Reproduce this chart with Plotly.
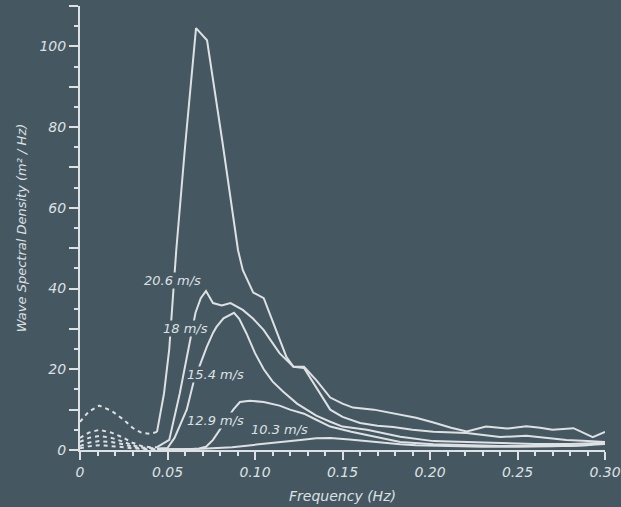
import plotly.graph_objects as go

BG = "#455761"
FG = "#dde1e3"
FONT = "DejaVu Sans"

# Low-frequency (dashed) part, shared frequencies
low_freq = [0.0, 0.005, 0.011, 0.018, 0.025, 0.030, 0.035, 0.040, 0.044]
low_206 = [7.0, 9.5, 11.0, 9.7, 7.5, 5.5, 4.3, 4.0, 4.5]
low_18 = [3.0, 4.3, 5.0, 4.3, 3.0, 1.8, 1.0, 0.7, 0.7]
low_154 = [2.0, 3.0, 3.5, 3.0, 2.0, 1.2, 0.6, 0.4, 0.4]
low_129 = [1.0, 1.8, 2.2, 2.0, 1.4, 0.8, 0.4, 0.3, 0.2]
low_103 = [0.4, 0.9, 1.2, 1.0, 0.7, 0.4, 0.2, 0.1, 0.1]

# 20.6 m/s
f_206 = [0.044, 0.048, 0.051, 0.055, 0.060, 0.0663, 0.0726, 0.0815, 0.0903, 0.093,
         0.099, 0.105, 0.110, 0.118, 0.122, 0.128, 0.135, 0.143, 0.150, 0.156,
         0.168, 0.183, 0.192, 0.202, 0.212, 0.221, 0.232, 0.244, 0.255, 0.263,
         0.270, 0.282, 0.293, 0.300]
s_206 = [4.5, 14, 25, 49.5, 75, 104.5, 101.5, 76, 49.5, 44.6,
         39, 37.6, 32, 23, 20.6, 20.6, 17.3, 13, 11.5, 10.5,
         10, 8.7, 8.0, 6.8, 5.5, 4.6, 5.8, 5.3, 5.9, 5.5,
         5.0, 5.4, 3.2, 4.5]

# 18 m/s
f_18 = [0.044, 0.051, 0.057, 0.063, 0.066, 0.069, 0.072, 0.076, 0.081, 0.086,
        0.093, 0.099, 0.105, 0.114, 0.122, 0.128, 0.135, 0.143, 0.150, 0.160,
        0.170, 0.179, 0.190, 0.202, 0.221, 0.240, 0.255, 0.265, 0.278, 0.290, 0.300]
s_18 = [0.7, 2.5, 14, 28, 34, 37.6, 39.4, 36.4, 35.8, 36.4,
        34.7, 32.5, 29.7, 24, 20.6, 20.3, 15.5, 10, 8.2, 6.7,
        6.0, 5.7, 5.0, 4.5, 4.2, 3.2, 3.5, 3.0, 2.5, 2.2, 2.0]

# 15.4 m/s
f_154 = [0.044, 0.050, 0.054, 0.057, 0.061, 0.065, 0.069, 0.0724, 0.076, 0.078,
         0.082, 0.0880, 0.091, 0.095, 0.100, 0.105, 0.110, 0.116, 0.124, 0.130,
         0.135, 0.143, 0.150, 0.164, 0.183, 0.202, 0.220, 0.240, 0.260, 0.280, 0.300]
s_154 = [0.4, 0.5, 3, 6, 10, 17, 21.7, 25.5, 29, 30.5,
         32.6, 34, 32.5, 29, 24, 20, 17, 14.5, 11.5, 9.8,
         8.5, 7, 5.8, 5, 3.3, 2.2, 2.0, 1.7, 1.5, 1.5, 1.8]

# 12.9 m/s
f_129 = [0.044, 0.062, 0.068, 0.072, 0.076, 0.080, 0.084, 0.0876, 0.0914, 0.097,
         0.105, 0.114, 0.120, 0.128, 0.135, 0.143, 0.155, 0.164, 0.175, 0.183,
         0.202, 0.220, 0.240, 0.260, 0.280, 0.300]
s_129 = [0.2, 0.2, 0.4, 0.8, 2.5, 5, 7.5, 10, 11.9, 12.2,
         11.9, 11, 10, 9, 7.5, 5.8, 4.5, 3.7, 2.6, 2.0,
         1.4, 1.2, 1.0, 1.0, 1.0, 1.5]

# 10.3 m/s
f_103 = [0.044, 0.060, 0.070, 0.087, 0.097, 0.107, 0.117, 0.126, 0.135, 0.143,
         0.154, 0.163, 0.173, 0.183, 0.192, 0.210, 0.230, 0.250, 0.270, 0.290, 0.300]
s_103 = [0.1, 0.2, 0.3, 0.7, 1.2, 1.7, 2.1, 2.5, 2.9, 3.0,
         2.6, 2.2, 1.7, 1.4, 1.2, 1.0, 0.8, 0.8, 0.9, 1.2, 2.0]

labels = ["20.6 m/s", "18 m/s", "15.4 m/s", "12.9 m/s", "10.3 m/s"]
label_x = [0.0526, 0.0600, 0.0777, 0.0777, 0.1140]
label_y = [41.9, 30.2, 18.8, 7.4, 5.2]

y_tickvals = [0, 10, 20, 30, 40, 50, 60, 70, 80, 90, 100, 110]
y_ticktext = ["0", "", "20", "", "40", "", "60", "", "80", "", "100", ""]
x_tickvals = [0, 0.05, 0.10, 0.15, 0.20, 0.25, 0.30]
x_ticktext = ["0", "0.05", "0.10", "0.15", "0.20", "0.25", "0.30"]

fig = go.Figure()
for ly in [low_206, low_18, low_154, low_129, low_103]:
    fig.add_trace(go.Scatter(x=low_freq, y=ly, mode="lines",
                             line=dict(color=FG, width=2, dash="4px,4px"),
                             showlegend=False, hoverinfo="skip"))
for fx, sy in [(f_206, s_206), (f_18, s_18), (f_154, s_154), (f_129, s_129), (f_103, s_103)]:
    fig.add_trace(go.Scatter(x=fx, y=sy, mode="lines",
                             line=dict(color=FG, width=2),
                             showlegend=False, hoverinfo="skip"))

for t, x, y in zip(labels, label_x, label_y):
    fig.add_annotation(x=x, y=y, text=t, showarrow=False,
                       font=dict(family=FONT, size=13, color=FG, style="italic"),
                       bgcolor=BG, borderpad=0)

fig.update_layout(
    width=621, height=507,
    margin=dict(l=80, r=16, t=6, b=57),
    paper_bgcolor=BG, plot_bgcolor=BG,
    font=dict(family=FONT, color=FG),
    showlegend=False,
)
fig.update_xaxes(
    range=[0, 0.30], showgrid=False, zeroline=False, automargin=False,
    showline=True, linecolor=FG, linewidth=2,
    ticks="outside", ticklen=8, tickwidth=2, tickcolor=FG,
    tickvals=x_tickvals, ticktext=x_ticktext,
    tickfont=dict(family=FONT, size=14, color=FG, style="italic"),
    minor=dict(dtick=0.01, ticks="outside", ticklen=4, tickwidth=2, tickcolor=FG, showgrid=False),
    title=dict(text="Frequency (Hz)", standoff=12,
               font=dict(family=FONT, size=14, color=FG, style="italic")),
)
fig.update_yaxes(
    range=[0, 110], showgrid=False, zeroline=False, automargin=False,
    showline=True, linecolor=FG, linewidth=2,
    ticks="outside", ticklen=9, tickwidth=2, tickcolor=FG,
    tickvals=y_tickvals, ticktext=y_ticktext,
    tickfont=dict(family=FONT, size=14, color=FG, style="italic"),
    minor=dict(dtick=5, ticks="outside", ticklen=4, tickwidth=2, tickcolor=FG, showgrid=False),
    title=dict(text="Wave Spectral Density (m² / Hz)", standoff=10,
               font=dict(family=FONT, size=13, color=FG, style="italic")),
)

fig.write_html("out.html")
